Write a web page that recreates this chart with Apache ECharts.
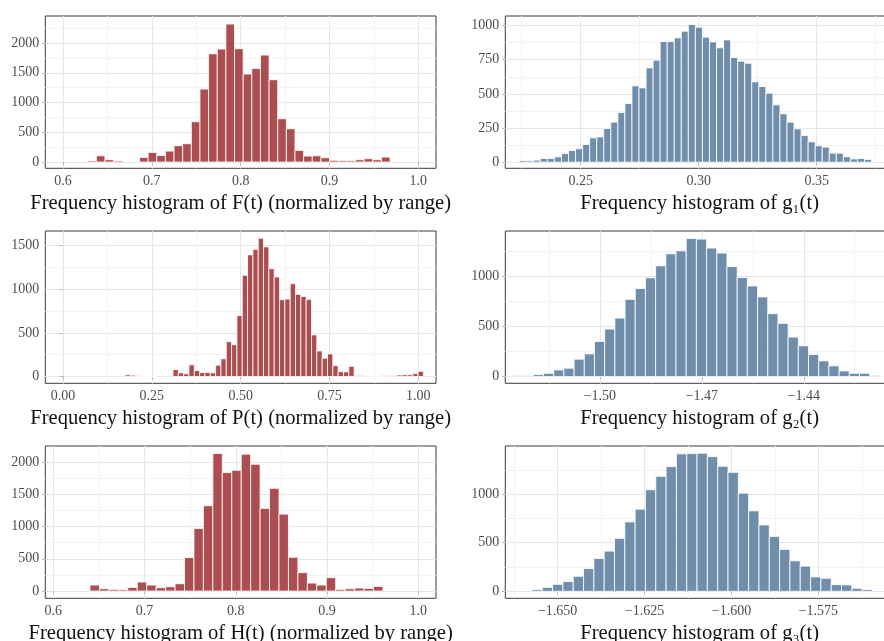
<!DOCTYPE html>
<html>
<head>
<meta charset="utf-8">
<script src="https://cdn.jsdelivr.net/npm/echarts@6/dist/echarts.min.js"></script>
<style>
  html, body { margin: 0; padding: 0; background: #ffffff; }
  #chart { width: 884px; height: 641px; }
</style>
</head>
<body>
<div id="chart"></div>
<script>
// ---- histogram data: first bin edge, bin width, counts per bin ----

// F(t), normalized by range
const fBinStart = 0.6277;
const fBinWidth = 0.00973;
const fCounts = [20, 106, 40, 20, 0, 0, 78, 162, 112, 185, 275, 308, 678, 1227, 1820, 1899, 2319, 1905,
  1479, 1574, 1798, 1384, 728, 560, 196, 101, 106, 73, 30, 22, 22, 39, 56, 39, 84];

// P(t), normalized by range
const pBinStart = 0.1745;
const pBinWidth = 0.015;
const pCounts = [19, 15, 8, 1, 1, 1, 0, 0, 0, 80, 42, 31, 134, 69, 46, 46, 42, 130, 203, 399,
  364, 698, 1160, 1395, 1458, 1585, 1486, 1236, 1141, 880, 888, 1064, 941, 918, 884, 477, 293, 209, 259, 124,
  56, 54, 117, 8, 8, 6, 3, 5, 8, 8, 12, 17, 20, 20, 33, 60];

// H(t), normalized by range
const hBinStart = 0.6402;
const hBinWidth = 0.01036;
const hCounts = [93, 36, 26, 21, 57, 140, 93, 52, 67, 114, 518, 969, 1321, 2129, 1834, 1870, 2119, 1963,
  1279, 1590, 1191, 523, 285, 124, 93, 207, 26, 36, 47, 41, 73];

// g1(t)
const g1BinStart = 0.22394;
const g1BinWidth = 0.002986;
const g1Counts = [12, 10, 15, 27, 27, 39, 63, 85, 98, 129, 178, 185, 246, 293, 363, 429, 559, 544, 690, 746,
  883, 883, 910, 959, 1008, 988, 915, 880, 837, 895, 766, 739, 724, 588, 554, 505, 420, 354, 293, 244,
  195, 149, 120, 110, 66, 66, 39, 24, 27, 20];

// g2(t)
const g2BinStart = -1.5256;
const g2BinWidth = 0.003;
const g2Counts = [12, 8, 20, 33, 67, 84, 174, 227, 351, 475, 585, 772, 880, 987, 1107, 1227, 1257, 1381,
  1374, 1284, 1234, 1100, 990, 906, 796, 629, 532, 395, 308, 221, 157, 107, 57, 33, 33, 12, 5];

// g3(t)
const g3BinStart = -1.6574;
const g3BinWidth = 0.002969;
const g3Counts = [17, 41, 72, 100, 155, 234, 338, 414, 545, 714, 845, 1045, 1183, 1283, 1414, 1417, 1421,
  1386, 1286, 1224, 1010, 828, 683, 565, 431, 314, 259, 148, 134, 69, 66, 31, 17];

// ---- styling ----
const RED = 'rgba(160, 52, 56, 0.88)';
const BLUE = 'rgba(96, 130, 163, 0.9)';
const FONT = '"Liberation Serif", "DejaVu Serif", serif';
const MAJOR_GRID = '#e6e6e6';
const MINOR_GRID = '#f3f3f3';

function makeBins(start, width, counts) {
  return counts.map((n, i) => [start + i * width, start + (i + 1) * width, n]);
}

function barRenderer(fill) {
  return function (params, api) {
    const n = api.value(2);
    if (!n) return null;
    const topLeft = api.coord([api.value(0), n]);
    const bottomRight = api.coord([api.value(1), 0]);
    return {
      type: 'rect',
      shape: {
        x: topLeft[0], y: topLeft[1],
        width: bottomRight[0] - topLeft[0],
        height: bottomRight[1] - topLeft[1]
      },
      style: { fill: fill, stroke: 'rgba(255,255,255,0.92)', lineWidth: 0.9 }
    };
  };
}

const LEFT = { left: 45.3, width: 390.7 };
const RIGHT = { left: 505.3, width: 388.7 };
const ROWS = [16, 231, 446];
const PANEL_H = 152.3;

const panels = [
  { bins: makeBins(fBinStart, fBinWidth, fCounts), color: RED, col: LEFT, row: 0,
    title: 'Frequency histogram of F(t) (normalized by range)',
    xMin: 0.58, xMax: 1.02, xStep: 0.1, xDigits: 1, yMin: -105, yMax: 2455, yStep: 500 },
  { bins: makeBins(g1BinStart, g1BinWidth, g1Counts), color: BLUE, col: RIGHT, row: 0,
    title: 'Frequency histogram of g\u2081(t)',
    xMin: 0.21805, xMax: 0.38275, xStep: 0.05, xDigits: 2, yMin: -45, yMax: 1070, yStep: 250 },
  { bins: makeBins(pBinStart, pBinWidth, pCounts), color: RED, col: LEFT, row: 1,
    title: 'Frequency histogram of P(t) (normalized by range)',
    xMin: -0.05, xMax: 1.05, xStep: 0.25, xDigits: 2, yMin: -78, yMax: 1668, yStep: 500 },
  { bins: makeBins(g2BinStart, g2BinWidth, g2Counts), color: BLUE, col: RIGHT, row: 1,
    title: 'Frequency histogram of g\u2082(t)',
    xMin: -1.52785, xMax: -1.41344, xStep: 0.03, xDigits: 2, yMin: -67, yMax: 1455, yStep: 500 },
  { bins: makeBins(hBinStart, hBinWidth, hCounts), color: RED, col: LEFT, row: 2,
    title: 'Frequency histogram of H(t) (normalized by range)',
    xMin: 0.5912, xMax: 1.0195, xStep: 0.1, xDigits: 1, yMin: -112, yMax: 2245, yStep: 500 },
  { bins: makeBins(g3BinStart, g3BinWidth, g3Counts), color: BLUE, col: RIGHT, row: 2,
    title: 'Frequency histogram of g\u2083(t)',
    xMin: -1.66507, xMax: -1.55323, xStep: 0.025, xDigits: 3, yMin: -72, yMax: 1495, yStep: 500 }
];

const fmt = (v, d) => v.toFixed(d).replace('-', '\u2212');

const grid = [], xAxis = [], yAxis = [], series = [];

panels.forEach((p, i) => {
  grid.push({
    left: p.col.left, width: p.col.width, top: ROWS[p.row], height: PANEL_H,
    containLabel: false, outerBoundsMode: 'none',
    show: true, backgroundColor: '#ffffff', borderColor: '#3a3a3a', borderWidth: 1
  });

  // minor grid lines (half steps), drawn underneath the major ones
  xAxis.push({
    type: 'value', gridIndex: i, position: 'bottom', offset: 0, min: p.xMin, max: p.xMax,
    minInterval: p.xStep / 2, maxInterval: p.xStep / 2,
    axisLine: { show: false }, axisTick: { show: false }, axisLabel: { show: false },
    splitLine: { show: true, showMinLine: false, showMaxLine: false, lineStyle: { color: MINOR_GRID, width: 1 } }
  });
  yAxis.push({
    type: 'value', gridIndex: i, position: 'left', offset: 0, min: p.yMin, max: p.yMax,
    minInterval: p.yStep / 2, maxInterval: p.yStep / 2,
    axisLine: { show: false }, axisTick: { show: false }, axisLabel: { show: false },
    splitLine: { show: true, showMinLine: false, showMaxLine: false, lineStyle: { color: MINOR_GRID, width: 1 } }
  });

  // major axes with ticks, labels and titles
  xAxis.push({
    type: 'value', gridIndex: i, position: 'bottom', offset: 0, min: p.xMin, max: p.xMax,
    minInterval: p.xStep, maxInterval: p.xStep,
    axisLine: { show: false },
    axisTick: { show: true, length: 3, lineStyle: { color: '#b5b5b5' } },
    axisLabel: {
      show: true, showMinLabel: false, showMaxLabel: false, margin: 6,
      color: '#4d4d4d', fontFamily: FONT, fontSize: 14,
      formatter: v => fmt(v, p.xDigits)
    },
    splitLine: { show: true, showMinLine: false, showMaxLine: false, lineStyle: { color: MAJOR_GRID, width: 1 } },
    name: p.title, nameLocation: 'middle', nameGap: 25,
    nameTextStyle: { color: '#111111', fontFamily: FONT, fontSize: 20.6 }
  });
  yAxis.push({
    type: 'value', gridIndex: i, position: 'left', offset: 0, min: p.yMin, max: p.yMax,
    minInterval: p.yStep, maxInterval: p.yStep,
    axisLine: { show: false },
    axisTick: { show: true, length: 3, lineStyle: { color: '#b5b5b5' } },
    axisLabel: {
      show: true, showMinLabel: false, showMaxLabel: false, margin: 6,
      color: '#4d4d4d', fontFamily: FONT, fontSize: 14,
      formatter: v => v.toFixed(0)
    },
    splitLine: { show: true, showMinLine: false, showMaxLine: false, lineStyle: { color: MAJOR_GRID, width: 1 } }
  });

  series.push({
    type: 'custom',
    xAxisIndex: 2 * i + 1, yAxisIndex: 2 * i + 1,
    renderItem: barRenderer(p.color),
    encode: { x: [0, 1], y: 2 },
    data: p.bins,
    z: 3,
    silent: true
  });
});

const chart = echarts.init(document.getElementById('chart'), null, { renderer: 'canvas' });
chart.setOption({
  animation: false,
  backgroundColor: '#ffffff',
  grid: grid,
  xAxis: xAxis,
  yAxis: yAxis,
  series: series
});
</script>
</body>
</html>
